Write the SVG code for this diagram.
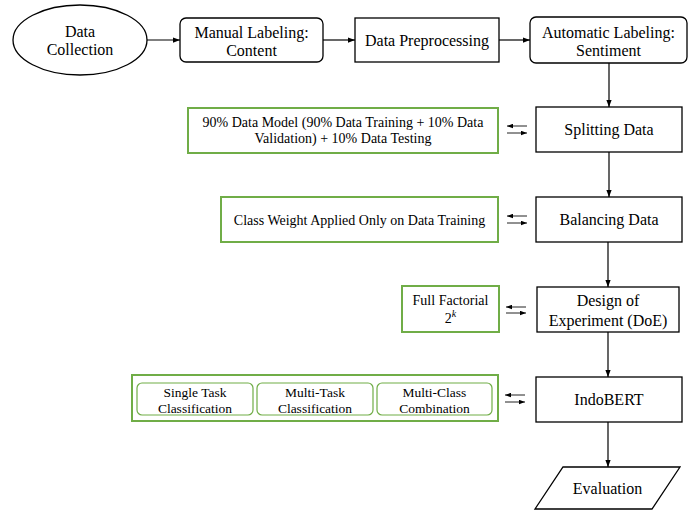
<svg xmlns="http://www.w3.org/2000/svg" width="692" height="513" viewBox="0 0 692 513" font-family="'Liberation Serif', 'Times New Roman', Times, serif">
<defs>
<marker id="arr" viewBox="0 0 8 6" refX="8" refY="3" markerWidth="7" markerHeight="5.5" markerUnits="userSpaceOnUse" orient="auto">
<path d="M0,0 L8,3 L0,6 Z" fill="#000"/>
</marker>
<marker id="arrs" viewBox="0 0 8 6" refX="8" refY="3" markerWidth="6" markerHeight="5" markerUnits="userSpaceOnUse" orient="auto">
<path d="M0,0 L8,3 L0,6 Z" fill="#000"/>
</marker>
</defs>
<style>
.n{fill:#fff;stroke:#000;stroke-width:1.3}
.g{fill:#fff;stroke:#70AD47;stroke-width:2}
.gi{fill:#fff;stroke:#70AD47;stroke-width:1.2}
text{font-family:'Liberation Serif','Times New Roman',Times,serif;fill:#000;text-anchor:middle}
.t{font-size:16px}
.s{font-size:14px}
.s2{font-size:13.5px}
.c{fill:none;stroke:#000;stroke-width:1.2}
.d{fill:none;stroke:#222;stroke-width:1}
</style>
<rect width="692" height="513" fill="#fff"/>
<g id="connectors">
<line class="c" x1="147" y1="40" x2="180" y2="40" marker-end="url(#arr)"/>
<line class="c" x1="323" y1="40" x2="355" y2="40" marker-end="url(#arr)"/>
<line class="c" x1="499" y1="40" x2="530" y2="40" marker-end="url(#arr)"/>
<line class="c" x1="609" y1="63" x2="609" y2="107" marker-end="url(#arr)"/>
<line class="c" x1="609" y1="152" x2="609" y2="197" marker-end="url(#arr)"/>
<line class="c" x1="608" y1="242" x2="608" y2="287" marker-end="url(#arr)"/>
<line class="c" x1="608" y1="332" x2="608" y2="377" marker-end="url(#arr)"/>
<line class="c" x1="608" y1="422" x2="608" y2="467" marker-end="url(#arr)"/>
<line class="d" x1="527" y1="126" x2="507" y2="126" marker-end="url(#arrs)"/>
<line class="d" x1="507" y1="133" x2="527" y2="133" marker-end="url(#arrs)"/>
<line class="d" x1="527" y1="216" x2="507" y2="216" marker-end="url(#arrs)"/>
<line class="d" x1="507" y1="223" x2="527" y2="223" marker-end="url(#arrs)"/>
<line class="d" x1="526" y1="307" x2="506" y2="307" marker-end="url(#arrs)"/>
<line class="d" x1="506" y1="313" x2="526" y2="313" marker-end="url(#arrs)"/>
<line class="d" x1="525" y1="395" x2="505" y2="395" marker-end="url(#arrs)"/>
<line class="d" x1="505" y1="402" x2="525" y2="402" marker-end="url(#arrs)"/>
</g>
<g id="data-collection">
<ellipse class="n" cx="80" cy="40" rx="67" ry="35"/>
<text class="t" x="80" y="37">Data</text>
<text class="t" x="80" y="55">Collection</text>
</g>
<g id="manual-labeling">
<rect class="n" x="180" y="18" width="143" height="44" rx="6"/>
<text class="t" x="251.5" y="38">Manual Labeling:</text>
<text class="t" x="251.5" y="56">Content</text>
</g>
<g id="data-preprocessing">
<rect class="n" x="355" y="18" width="144" height="44"/>
<text class="t" x="427" y="46">Data Preprocessing</text>
</g>
<g id="automatic-labeling">
<rect class="n" x="530" y="17" width="157" height="46" rx="6"/>
<text class="t" x="608.5" y="38">Automatic Labeling:</text>
<text class="t" x="608.5" y="56">Sentiment</text>
</g>
<g id="splitting-data">
<rect class="n" x="536" y="107" width="146" height="45"/>
<text class="t" x="609" y="135">Splitting Data</text>
</g>
<g id="balancing-data">
<rect class="n" x="536" y="197" width="146" height="45"/>
<text class="t" x="609" y="225">Balancing Data</text>
</g>
<g id="doe">
<rect class="n" x="537" y="287" width="142" height="45"/>
<text class="t" x="608" y="306">Design of</text>
<text class="t" x="608" y="326">Experiment (DoE)</text>
</g>
<g id="indobert">
<rect class="n" x="536" y="377" width="146" height="45"/>
<text class="t" x="609" y="405">IndoBERT</text>
</g>
<g id="evaluation">
<polygon class="n" points="563,467 680,467 652,509 535,509"/>
<text class="t" x="607.5" y="494">Evaluation</text>
</g>
<g id="split-note">
<rect class="g" x="188" y="108" width="310" height="45"/>
<text class="s" x="343" y="127">90% Data Model (90% Data Training + 10% Data</text>
<text class="s" x="343" y="143">Validation) + 10% Data Testing</text>
</g>
<g id="balance-note">
<rect class="g" x="221" y="197" width="277" height="45"/>
<text class="s" x="359.5" y="225">Class Weight Applied Only on Data Training</text>
</g>
<g id="doe-note">
<rect class="g" x="402" y="286" width="97" height="46"/>
<text class="s" x="450.5" y="305">Full Factorial</text>
<text class="s" x="450.5" y="323">2<tspan font-style="italic" font-size="10px" dy="-6">k</tspan></text>
</g>
<g id="model-options">
<rect class="g" x="132" y="375" width="366" height="46"/>
<g id="single-task">
<rect class="gi" x="137" y="383" width="116" height="32" rx="5"/>
<text class="s2" x="195" y="397">Single Task</text>
<text class="s2" x="195" y="413">Classification</text>
</g>
<g id="multi-task">
<rect class="gi" x="257" y="383" width="116" height="32" rx="5"/>
<text class="s2" x="315" y="397">Multi-Task</text>
<text class="s2" x="315" y="413">Classification</text>
</g>
<g id="multi-class">
<rect class="gi" x="377" y="383" width="115" height="32" rx="5"/>
<text class="s2" x="434.5" y="397">Multi-Class</text>
<text class="s2" x="434.5" y="413">Combination</text>
</g>
</g>
</svg>
